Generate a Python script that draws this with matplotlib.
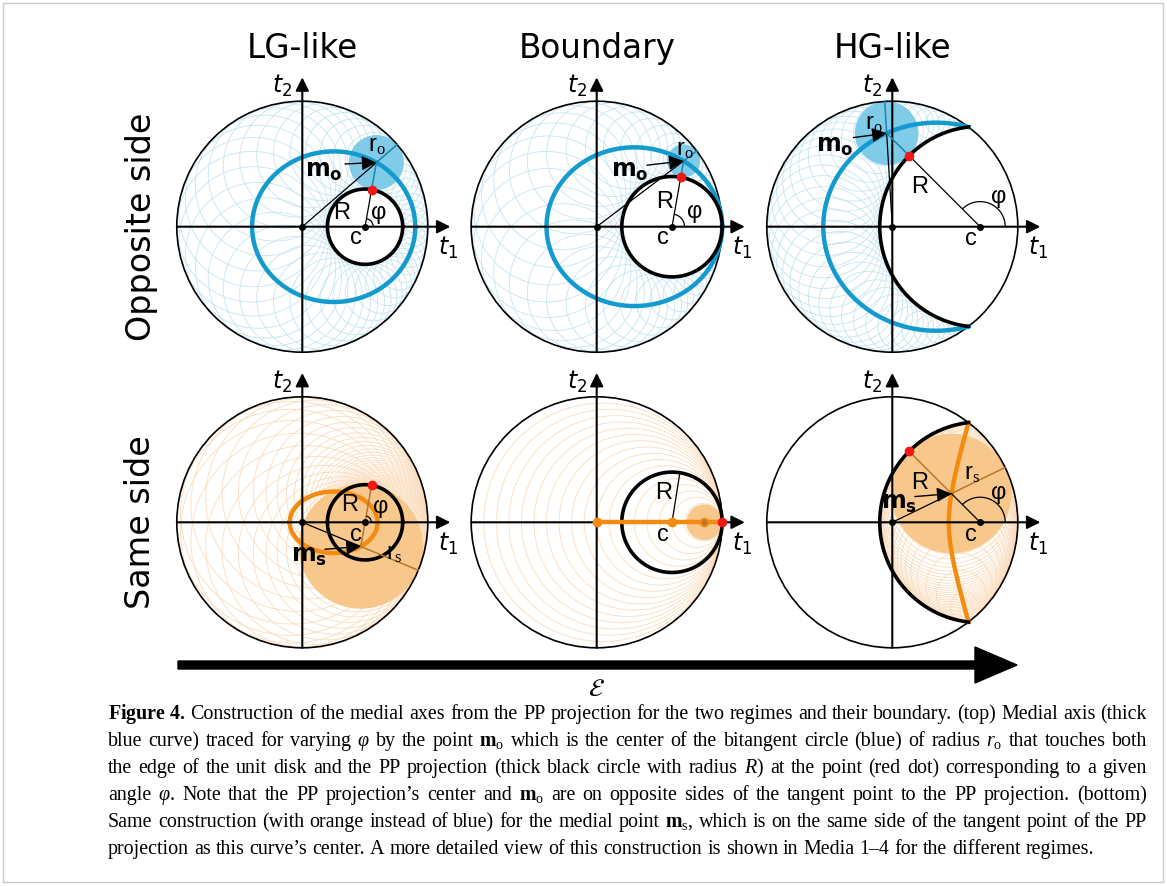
import numpy as np
import matplotlib
matplotlib.use('Agg')
import matplotlib.pyplot as plt
from matplotlib.patches import Circle, Arc, Rectangle, FancyArrow

plt.rcParams['mathtext.fontset'] = 'custom'
plt.rcParams['mathtext.rm'] = 'Liberation Serif'
plt.rcParams['mathtext.it'] = 'Liberation Serif:italic'
plt.rcParams['mathtext.bf'] = 'Liberation Serif:bold'

# regimes: PP projection center c and radius R (unit disk)
titles = ['LG-like', 'Boundary', 'HG-like']
row_labels = ['Opposite side', 'Same side']
pp_center = [0.5, 0.6, 0.7]
pp_radius = [0.3, 0.4, 0.8]
phi_shown = [80, 80, 135]          # degrees, tangent point shown
bnd_same_disk = [0.857, 0.143]     # center, radius of the small disk (boundary, same side)
bnd_R_angle = 81

caption = [
    r"$\mathbf{Figure\ 4.}$ Construction of the medial axes from the PP projection for the two regimes and their boundary. (top) Medial axis (thick",
    r"blue curve) traced for varying $\varphi$ by the point $\mathbf{m}_\mathrm{o}$ which is the center of the bitangent circle (blue) of radius $r_\mathrm{o}$ that touches both",
    r"the edge of the unit disk and the PP projection (thick black circle with radius $R$) at the point (red dot) corresponding to a given",
    r"angle $\varphi$. Note that the PP projection’s center and $\mathbf{m}_\mathrm{o}$ are on opposite sides of the tangent point to the PP projection. (bottom)",
    r"Same construction (with orange instead of blue) for the medial point $\mathbf{m}_\mathrm{s}$, which is on the same side of the tangent point of the PP",
    r"projection as this curve’s center. A more detailed view of this construction is shown in Media 1–4 for the different regimes.",
]

BLUE = '#139acf'
BLUE_FILL = '#80cbe7'
BLUE_FAINT = '#c6e4f1'
BLUE_DARK = '#1c84ad'
ORANGE = '#f38b10'
ORANGE_FILL = '#f8c78b'
ORANGE_FAINT = '#fadcbd'
BROWN = '#b8772c'
RED = '#f01818'
SANS = 'Liberation Sans'
LFS = 17   # label font size inside the panels

W, H = 1167, 886
S = 125.5                     # pixels per unit
col_x = [302.3, 596.7, 892.3]
row_y = [226.7, 522.3]

fig = plt.figure(figsize=(W / 100, H / 100), dpi=100)


def opp(c, R, phi):
    d = ((1 + R) ** 2 - c ** 2) / (2 * (c * np.cos(phi) + 1 + R))
    return c + d * np.cos(phi), d * np.sin(phi), d - R


def same(c, R, phi):
    e = ((1 - R) ** 2 - c ** 2) / (2 * ((1 - R) - c * np.cos(phi)))
    return c - e * np.cos(phi), -e * np.sin(phi), R + e


def phi_range(c, R):
    # part of the PP circle inside the unit disk
    x = (1 + c ** 2 - R ** 2) / (2 * c)
    if R + c <= 1.0001:
        return 0.0, 2 * np.pi
    p0 = np.arccos((x - c) / R)
    return p0, 2 * np.pi - p0


def panel_ax(ox, oy, x0=-1.2, x1=1.45, y0=-1.05, y1=1.3):
    ax = fig.add_axes([(ox + x0 * S) / W, 1 - (oy - y0 * S) / H,
                       (x1 - x0) * S / W, (y1 - y0) * S / H])
    ax.set_xlim(x0, x1)
    ax.set_ylim(y0, y1)
    ax.axis('off')
    return ax


def base(ax):
    ax.add_patch(Circle((0, 0), 1, fill=False, lw=1.2, color='k', zorder=3))
    ax.annotate('', xy=(1.18, 0), xytext=(-1, 0), zorder=5,
                arrowprops=dict(arrowstyle='-|>', lw=1.5, color='k', mutation_scale=20, shrinkA=0, shrinkB=0))
    ax.annotate('', xy=(0, 1.19), xytext=(0, -1), zorder=5,
                arrowprops=dict(arrowstyle='-|>', lw=1.5, color='k', mutation_scale=20, shrinkA=0, shrinkB=0))
    ax.text(-0.16, 1.12, r'$t_2$', fontsize=LFS, ha='center', va='center', math_fontfamily='dejavusans')
    ax.text(1.16, -0.17, r'$t_1$', fontsize=LFS, ha='center', va='center', math_fontfamily='dejavusans')
    ax.plot(0, 0, 'o', color='k', ms=4, zorder=6)


def lab(ax, xy, s, **kw):
    ax.text(xy[0], xy[1], s, fontsize=LFS, ha='center', va='center', family=SANS, zorder=8, **kw)


def pointer(ax, start, end):
    ax.annotate('', xy=end, xytext=start, zorder=8,
                arrowprops=dict(arrowstyle='-|>', lw=1.0, color='k', mutation_scale=22, shrinkA=0, shrinkB=0))


def pp_curve(ax, c, R):
    lo, hi = phi_range(c, R)
    t = np.linspace(lo, hi, 400)
    ax.plot(c + R * np.cos(t), R * np.sin(t), color='k', lw=2.6, zorder=5)


def faint_phis(lo, hi):
    if hi - lo > 6:
        return np.linspace(lo, hi, 49)[:-1]
    return np.linspace(lo, hi, 44)


# label placement in each panel (data units)
top_lab = [
    dict(m=(0.17, 0.44), st=(0.34, 0.50), r=(0.59, 0.645), R=(0.31, 0.11), p=(0.61, 0.11), c=(0.43, -0.09), arc=0.065),
    dict(m=(0.26, 0.44), st=(0.40, 0.49), r=(0.70, 0.615), R=(0.54, 0.20), p=(0.78, 0.12), c=(0.53, -0.09), arc=0.10),
    dict(m=(-0.46, 0.64), st=(-0.31, 0.71), r=(-0.15, 0.815), R=(0.22, 0.32), p=(0.85, 0.24), c=(0.63, -0.10), arc=0.20),
]
bot_lab = [
    dict(m=(0.05, -0.27), st=(0.18, -0.215), r=(0.73, -0.25), R=(0.375, 0.14), p=(0.625, 0.125), c=(0.43, -0.10), arc=0.05),
    None,
    dict(m=(0.05, 0.15), st=(0.18, 0.205), r=(0.635, 0.385), R=(0.22, 0.31), p=(0.85, 0.23), c=(0.63, -0.10), arc=0.20),
]

# ---- top row: opposite side ----
for i in range(3):
    ax = panel_ax(col_x[i], row_y[0])
    c, R = pp_center[i], pp_radius[i]
    lo, hi = phi_range(c, R)
    for ph in faint_phis(lo, hi):
        mx, my, r = opp(c, R, ph)
        if r > 0.005:
            ax.add_patch(Circle((mx, my), r, fill=False, lw=0.6, color=BLUE_FAINT, zorder=1))
    base(ax)
    phi = np.radians(phi_shown[i])
    mx, my, r = opp(c, R, phi)
    ax.add_patch(Circle((mx, my), r, color=BLUE_FILL, lw=0, zorder=2))
    t = np.linspace(lo, hi, 500)
    ex, ey, _ = opp(c, R, t)
    ax.plot(ex, ey, color=BLUE, lw=3.2, zorder=4)
    pp_curve(ax, c, R)
    px, py = c + R * np.cos(phi), R * np.sin(phi)
    nm = np.hypot(mx, my)
    ax.plot([0, mx], [0, my], color='k', lw=0.9, zorder=6)
    ax.plot([mx, mx / nm], [my, my / nm], color=BLUE_DARK, lw=1.1, zorder=6)
    ax.plot([c, px], [0, py], color='k', lw=0.9, zorder=6)
    ax.plot([px, mx], [py, my], color=BLUE_DARK, lw=1.1, zorder=6)
    a = top_lab[i]['arc']
    ax.add_patch(Arc((c, 0), 2 * a, 2 * a, theta1=0, theta2=phi_shown[i], lw=0.9, color='k', zorder=6))
    ax.plot(c, 0, 'o', color='k', ms=4, zorder=7)
    ax.plot(px, py, 'o', color=RED, ms=6, zorder=7)
    L = top_lab[i]
    pointer(ax, L['st'], (mx, my))
    ax.text(L['m'][0], L['m'][1], r'$\mathbf{m}_\mathbf{o}$', fontsize=LFS, ha='center', va='center',
            math_fontfamily='dejavusans', zorder=8)
    lab(ax, L['r'], r'r$_\mathrm{o}$')
    lab(ax, L['R'], 'R')
    lab(ax, L['p'], 'φ')
    lab(ax, L['c'], 'c')

# ---- bottom row: same side ----
for i in range(3):
    ax = panel_ax(col_x[i], row_y[1])
    c, R = pp_center[i], pp_radius[i]
    lo, hi = phi_range(c, R)
    if i == 1:
        # degenerate case: all circles tangent at (1, 0)
        for x in np.linspace(0, 0.95, 20):
            ax.add_patch(Circle((x, 0), 1 - x, fill=False, lw=0.6, color=ORANGE_FAINT, zorder=1))
        base(ax)
        mc, mr = bnd_same_disk
        ax.add_patch(Circle((mc, 0), mr, color=ORANGE_FILL, lw=0, zorder=2))
        pp_curve(ax, c, R)
        ax.plot([0, 1], [0, 0], color=ORANGE, lw=3.2, zorder=6)
        ax.plot([0, c, mc], [0, 0, 0], 'o', color=ORANGE, ms=6, zorder=7)
        ax.plot(mc, 0, 'o', color=BROWN, ms=3, zorder=8)
        ax.plot(1, 0, 'o', color=RED, ms=6, zorder=8)
        b = np.radians(bnd_R_angle)
        ax.plot([c, c + R * np.cos(b)], [0, R * np.sin(b)], color='k', lw=0.9, zorder=6)
        lab(ax, (0.53, 0.23), 'R')
        lab(ax, (0.53, -0.10), 'c')
        continue
    for ph in faint_phis(lo, hi):
        mx, my, r = same(c, R, ph)
        if r > 0.005:
            ax.add_patch(Circle((mx, my), r, fill=False, lw=0.6, color=ORANGE_FAINT, zorder=1))
    base(ax)
    phi = np.radians(phi_shown[i])
    mx, my, r = same(c, R, phi)
    ax.add_patch(Circle((mx, my), r, color=ORANGE_FILL, lw=0, zorder=2))
    t = np.linspace(lo, hi, 500)
    ex, ey, _ = same(c, R, t)
    ax.plot(ex, ey, color=ORANGE, lw=3.2, zorder=4)
    pp_curve(ax, c, R)
    px, py = c + R * np.cos(phi), R * np.sin(phi)
    nm = np.hypot(mx, my)
    ax.plot([0, mx], [0, my], color='k', lw=0.9, zorder=6)
    ax.plot([mx, mx / nm], [my, my / nm], color=BROWN, lw=1.1, zorder=6)
    ax.plot([px, mx], [py, my], color=BROWN, lw=1.1, zorder=6)
    if i == 2:
        ax.plot([mx, c], [my, 0], color='k', lw=0.9, zorder=6)
    a = bot_lab[i]['arc']
    ax.add_patch(Arc((c, 0), 2 * a, 2 * a, theta1=0, theta2=phi_shown[i], lw=0.9, color='k', zorder=6))
    ax.plot(c, 0, 'o', color='k', ms=4, zorder=7)
    ax.plot(px, py, 'o', color=RED, ms=6, zorder=7)
    L = bot_lab[i]
    pointer(ax, L['st'], (mx, my))
    ax.text(L['m'][0], L['m'][1], r'$\mathbf{m}_\mathbf{s}$', fontsize=LFS, ha='center', va='center',
            math_fontfamily='dejavusans', zorder=8)
    lab(ax, L['r'], r'r$_\mathrm{s}$')
    lab(ax, L['R'], 'R')
    lab(ax, L['p'], 'φ')
    lab(ax, L['c'], 'c')

# ---- overlay: titles, row labels, epsilon arrow, caption, frame ----
ov = fig.add_axes([0, 0, 1, 1])
ov.set_xlim(0, W)
ov.set_ylim(H, 0)
ov.axis('off')
ov.add_patch(Rectangle((3, 3), W - 7, H - 7, fill=False, lw=1.0, color='#c8c8c8'))
for i in range(3):
    ov.text(col_x[i], 48, titles[i], fontsize=23.5, ha='center', va='center', family='DejaVu Sans')
for j in range(2):
    ov.text(141, row_y[j], row_labels[j], fontsize=24, rotation=90, ha='center', va='center', family='DejaVu Sans')
ov.add_patch(FancyArrow(178, 665, 839, 0, width=8, head_width=36, head_length=42,
                        length_includes_head=True, color='k'))
ov.text(597, 689, r'$\mathcal{E}$', fontsize=18, ha='center', va='center', math_fontfamily='stix')

# caption, justified word by word; font size chosen so the widest line fits
renderer = fig.canvas.get_renderer()
x_left, x_right = 108, 1147
line_y = [719, 746, 773, 800, 827, 854]
fs0 = 12.0
lines = []
for k, line in enumerate(caption):
    words = [w.replace('~', r'\ ') for w in line.replace(r'\ ', '~').split(' ')]
    objs = [ov.text(0, line_y[k], w, fontsize=fs0, family='Liberation Serif', ha='left', va='baseline')
            for w in words]
    lines.append(objs)
need = []
for objs in lines:
    wsum = sum(o.get_window_extent(renderer).width for o in objs)
    need.append(wsum + (len(objs) - 1) * 0.25 * fs0 * 100 / 72)
fs = fs0 * (x_right - x_left) / max(need)
for k, objs in enumerate(lines):
    for o in objs:
        o.set_fontsize(fs)
    widths = [o.get_window_extent(renderer).width for o in objs]
    if k < len(lines) - 1:
        gap = (x_right - x_left - sum(widths)) / (len(objs) - 1)
    else:
        gap = 0.25 * fs * 100 / 72
    x = x_left
    for o, w in zip(objs, widths):
        o.set_x(x)
        x += w + gap

fig.savefig('out.png', dpi=100)
